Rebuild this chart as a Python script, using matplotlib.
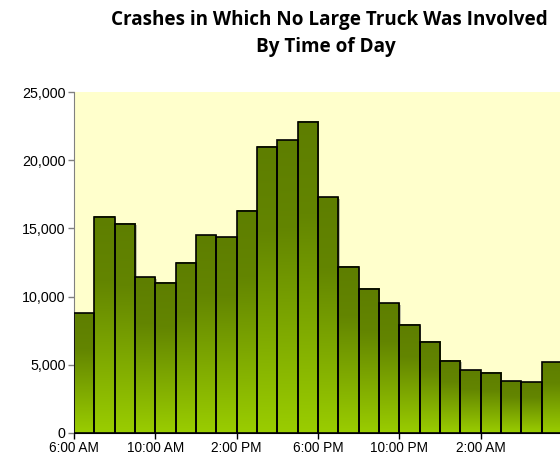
import numpy as np
import matplotlib
matplotlib.use('Agg')
import matplotlib.pyplot as plt
from matplotlib.colors import LinearSegmentedColormap
from matplotlib.ticker import FuncFormatter
from matplotlib.transforms import offset_copy

# crashes per hour, starting at 6:00 AM
hours = list(range(24))
crashes = [8780, 15860, 15350, 11410, 11020, 12490, 14490, 14350,
           16300, 20970, 21460, 22820, 17280, 12190, 10560, 9510,
           7920, 6690, 5280, 4600, 4420, 3790, 3720, 5200]
tick_pos = [0, 4, 8, 12, 16, 20]
tick_labels = ['6:00 AM', '10:00 AM', '2:00 PM', '6:00 PM', '10:00 PM',
               '2:00 AM']
title1 = 'Crashes in Which No Large Truck Was Involved'
title2 = 'By Time of Day'

fig = plt.figure(figsize=(5.6, 4.55), dpi=100)
ax = fig.add_axes([74 / 560, 1 - 433 / 455, 488 / 560, 341 / 455])
ax.set_facecolor('#FFFFCC')

cmap = LinearSegmentedColormap.from_list(
    'bar', [(0.0, '#5E7E00'), (0.3, '#638500'), (1.0, '#9ACD00')])
grad = np.linspace(0, 1, 256).reshape(-1, 1)

# soft shadow behind bars
shadow_tr = offset_copy(ax.transData, fig=fig, x=1.5, y=-1.5, units='dots')
ax.bar(hours, crashes, width=1, align='edge', color='#808080', alpha=0.5,
       linewidth=0, transform=shadow_tr, zorder=1.5)

for h, v in zip(hours, crashes):
    ax.imshow(grad, cmap=cmap, aspect='auto', extent=(h, h + 1, 0, v),
              origin='upper', zorder=2, interpolation='bilinear')
ax.bar(hours, crashes, width=1, align='edge', facecolor='none',
       edgecolor='black', linewidth=1.2, zorder=3)

ax.set_xlim(0, 24)
ax.set_ylim(0, 25000)
ax.set_yticks(range(0, 25001, 5000))
ax.yaxis.set_major_formatter(FuncFormatter(lambda x, p: f'{int(x):,}'))
ax.set_xticks(tick_pos)
ax.set_xticklabels(tick_labels)

font = 'Liberation Sans'
for lbl in ax.get_yticklabels():
    lbl.set_fontfamily(font)
    lbl.set_fontsize(10.3)
for lbl in ax.get_xticklabels():
    lbl.set_fontfamily(font)
    lbl.set_fontsize(9.8)
ax.tick_params(axis='both', direction='out', length=4, width=1,
               colors='#808080', labelcolor='black', pad=2)
ax.tick_params(axis='x', pad=1.5, colors='black')

for s in ['top', 'right']:
    ax.spines[s].set_visible(False)
ax.spines['left'].set_color('#808080')
ax.spines['bottom'].set_color('black')
ax.spines['bottom'].set_zorder(4)

fig.text(329 / 560, 1 - 25 / 455, title1, ha='center', va='baseline',
         fontfamily='Open Sans', fontweight='bold', fontsize=13.6)
fig.text(326 / 560, 1 - 52 / 455, title2, ha='center', va='baseline',
         fontfamily='Open Sans', fontweight='bold', fontsize=13.6)

fig.savefig('out.png', dpi=100)
